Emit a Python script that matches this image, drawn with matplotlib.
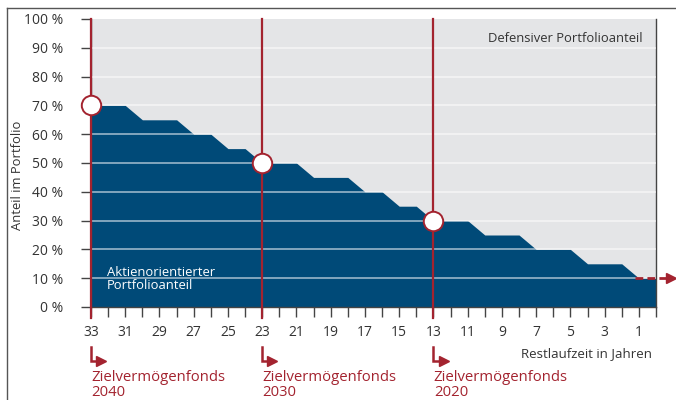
import matplotlib
matplotlib.use('Agg')
import matplotlib.pyplot as plt
import matplotlib.transforms as mtransforms
from matplotlib.lines import Line2D

plt.rcParams['font.family'] = ['Open Sans', 'DejaVu Sans']

# remaining years and equity share (%)
years = [33, 31, 30, 28, 27, 26, 25, 24, 23, 21, 20, 18, 17, 16, 15, 14, 13, 11, 10, 8, 7, 5, 4, 2, 1, 0]
share = [70, 70, 65, 65, 60, 60, 55, 55, 50, 50, 45, 45, 40, 40, 35, 35, 30, 30, 25, 25, 20, 20, 15, 15, 10, 10]

fund_years = [33, 23, 13]
fund_share = [70, 50, 30]
fund_names = ['Zielvermögenfonds\n2040', 'Zielvermögenfonds\n2030', 'Zielvermögenfonds\n2020']

x_ticks = list(range(33, 0, -2))
y_ticks = list(range(0, 101, 10))

blue = '#004a78'
red = '#a3232f'
grey_bg = '#e4e5e7'
txt = '#333333'

fig = plt.figure(figsize=(6.76, 4.0), dpi=100)
ax = fig.add_axes([91/676, 1 - 307/400, (656 - 91)/676, (307 - 19)/400])
ax.set_facecolor(grey_bg)

ax.fill_between(years, share, 0, color=blue, linewidth=0, zorder=2)
for v in y_ticks[1:-1]:
    ax.axhline(v, color='white', alpha=0.55, linewidth=1.3, zorder=3)

ax.set_xlim(33, 0)
ax.set_ylim(0, 100)
ax.set_xticks(x_ticks)
ax.set_xticks(range(0, 34), minor=True)
ax.set_yticks(y_ticks)
ax.set_yticklabels([f'{v} %' for v in y_ticks])

ax.tick_params(axis='x', which='both', direction='out', length=7, width=1,
               color='#444444', labelsize=10, labelcolor=txt, pad=6)
ax.tick_params(axis='y', direction='out', length=7, width=1,
               color='#444444', labelsize=10, labelcolor=txt, pad=13)
ax.spines['top'].set_visible(False)
for s in ['left', 'bottom', 'right']:
    ax.spines[s].set_color('#444444')
    ax.spines[s].set_linewidth(1)

# red vertical lines for the target funds
trans = mtransforms.blended_transform_factory(ax.transData, fig.transFigure)
for yr, sh in zip(fund_years, fund_share):
    ax.plot([yr, yr], [1 - 19/400, 1 - 318/400], color=red, linewidth=1.6,
            transform=trans, clip_on=False, zorder=5)
    ax.plot(yr, sh, marker='o', markersize=14, markerfacecolor='white',
            markeredgecolor=red, markeredgewidth=1.4, clip_on=False, zorder=6)

# bent arrows and fund names below the axis
for yr, name in zip(fund_years, fund_names):
    y0 = 1 - 347/400
    y1 = 1 - 361/400
    ax.plot([yr, yr, yr - 0.55], [y0, y1, y1], color=red, linewidth=1.8,
            transform=trans, clip_on=False, solid_joinstyle='miter')
    ax.plot(yr - 0.6, y1, marker='>', markersize=7, color=red,
            transform=trans, clip_on=False)
    ax.text(yr - 0.02, 1 - 385/400, name, color=red, fontsize=10.7, ha='left',
            va='center', linespacing=1.0, transform=trans, clip_on=False)

# dashed arrow continuing the 10 % share
ax.plot([1.2, -0.75], [10, 10], color=red, linewidth=2, linestyle=(0, (2.8, 1.5)),
        clip_on=False, zorder=5)
ax.plot(-0.9, 10, marker='>', markersize=7.5, color=red, clip_on=False, zorder=5)

ax.text(1 - 13/565, 0.955, 'Defensiver Portfolioanteil', transform=ax.transAxes,
        ha='right', va='top', fontsize=9.4, color=txt)
fig.text(107/676, 1 - 279/400, 'Aktienorientierter\nPortfolioanteil', ha='left',
         va='center', fontsize=9.4, color='white', linespacing=1.0, zorder=7)
fig.text(652/676, 1 - 354/400, 'Restlaufzeit in Jahren', ha='right', va='center',
         fontsize=9.5, color=txt)
fig.text(18/676, 1 - 175/400, 'Anteil im Portfolio', rotation=90, ha='center',
         va='center', fontsize=9.4, color=txt)

# outer frame
fig.add_artist(Line2D([7/676, 1], [1 - 8/400, 1 - 8/400], color='#555555', linewidth=1,
                      transform=fig.transFigure))
fig.add_artist(Line2D([7/676, 7/676], [0, 1 - 8/400], color='#555555', linewidth=1,
                      transform=fig.transFigure))

fig.savefig('out.png', dpi=100)
